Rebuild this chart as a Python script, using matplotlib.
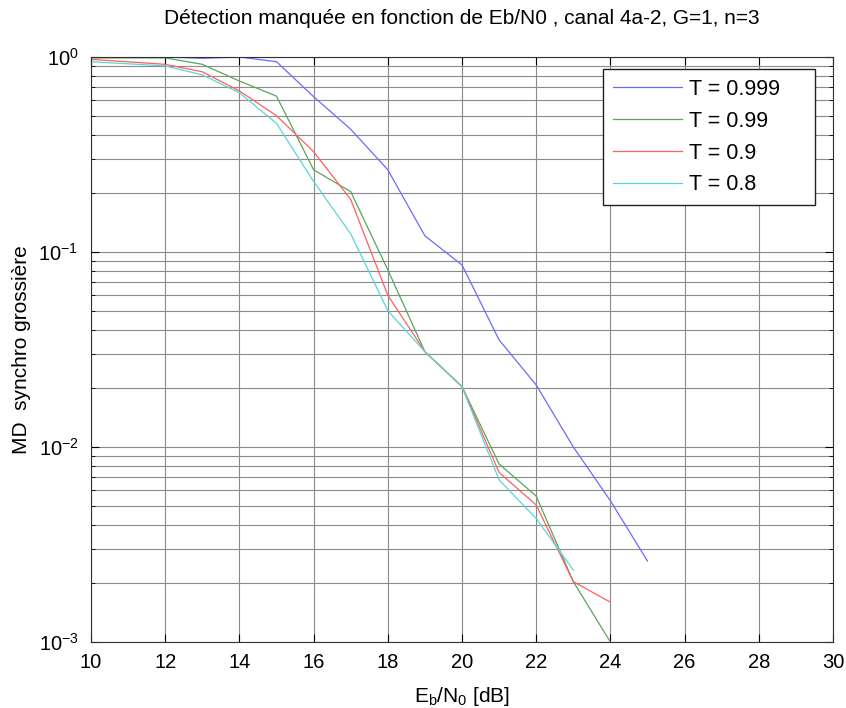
import matplotlib
matplotlib.use("Agg")
import matplotlib.pyplot as plt
from matplotlib.ticker import LogLocator, NullFormatter, MultipleLocator

plt.rcParams['font.family'] = ['Liberation Sans', 'DejaVu Sans']
plt.rcParams['mathtext.fontset'] = 'custom'
plt.rcParams['mathtext.rm'] = 'Liberation Sans'
plt.rcParams['mathtext.it'] = 'Liberation Sans'

# Eb/N0 (dB) and missed detection rates, one list per threshold
ebn0_999 = [10, 12, 13, 14, 15, 16, 17, 18, 19, 20, 21, 22, 23, 24, 25]
md_999 = [1.0, 1.0, 0.985, 1.0, 0.946, 0.626, 0.426, 0.264, 0.121, 0.0858,
          0.0354, 0.0208, 0.0100, 0.0053, 0.0026]

ebn0_99 = [10, 12, 13, 14, 15, 16, 17, 18, 19, 20, 21, 22, 23, 24]
md_99 = [0.99, 0.99, 0.917, 0.753, 0.63, 0.264, 0.204, 0.081, 0.0308, 0.0204,
         0.00818, 0.0056, 0.00204, 0.001]

ebn0_9 = [10, 12, 13, 14, 15, 16, 17, 18, 19, 20, 21, 22, 23, 24]
md_9 = [0.973, 0.917, 0.84, 0.67, 0.50, 0.327, 0.186, 0.060, 0.0308, 0.0204,
        0.0074, 0.00504, 0.00204, 0.0016]

ebn0_8 = [10, 12, 13, 14, 15, 16, 17, 18, 19, 20, 21, 22, 23]
md_8 = [0.946, 0.90, 0.81, 0.656, 0.457, 0.23, 0.124, 0.050, 0.0308, 0.0204,
        0.00678, 0.0043, 0.00234]

labels = ['T = 0.999', 'T = 0.99', 'T = 0.9', 'T = 0.8']
colors = ['#6a6aff', '#5aa55a', '#ff5f5f', '#5ad6d6']

fig = plt.figure(figsize=(8.46, 7.08), dpi=100)
ax = fig.add_axes([91 / 846, 1 - 642 / 708, 742 / 846, 585 / 708])

series = [(ebn0_999, md_999), (ebn0_99, md_99), (ebn0_9, md_9), (ebn0_8, md_8)]
for (x, y), lab, c in zip(series, labels, colors):
    ax.plot(x, y, color=c, lw=0.9, label=lab)

ax.set_yscale('log')
ax.set_xlim(10, 30)
ax.set_ylim(1e-3, 1)
ax.xaxis.set_major_locator(MultipleLocator(2))
ax.yaxis.set_major_locator(LogLocator(base=10, numticks=10))
ax.yaxis.set_minor_locator(LogLocator(base=10, subs=range(2, 10), numticks=20))
ax.yaxis.set_minor_formatter(NullFormatter())

ax.grid(True, which='major', color='#8a8a8a', lw=0.8)
ax.grid(True, which='minor', axis='y', color='#8a8a8a', lw=0.8)
ax.tick_params(which='both', direction='in', top=True, right=True, labelsize=14.5)
ax.tick_params(axis='x', pad=8)
ax.tick_params(axis='y', pad=9)
ax.tick_params(which='major', length=6)
ax.tick_params(which='minor', length=3)
for s in ax.spines.values():
    s.set_color('#303030')

ax.set_title('Détection manquée en fonction de Eb/N0 , canal 4a-2, G=1, n=3',
             fontsize=15, pad=24)
ax.set_xlabel(r'E$_\mathrm{b}$/N$_\mathrm{0}$ [dB]', fontsize=15)
ax.set_ylabel('MD  synchro grossière', fontsize=15)
ax.xaxis.set_label_coords(0.5, -0.0735)
ax.yaxis.set_label_coords(-0.081, 0.5)

# legend box stretched to the width seen in the reference
leg = ax.legend(loc='upper right', bbox_to_anchor=(0.690, 0.749, 0.286, 0.230),
                mode='expand', fontsize=15.5,
                handlelength=3.2, handletextpad=0.35, borderaxespad=0,
                fancybox=False, framealpha=1, edgecolor='#202020',
                borderpad=0.45, labelspacing=0.5)
leg.get_frame().set_linewidth(1.0)

fig.savefig('out.png', dpi=100)
